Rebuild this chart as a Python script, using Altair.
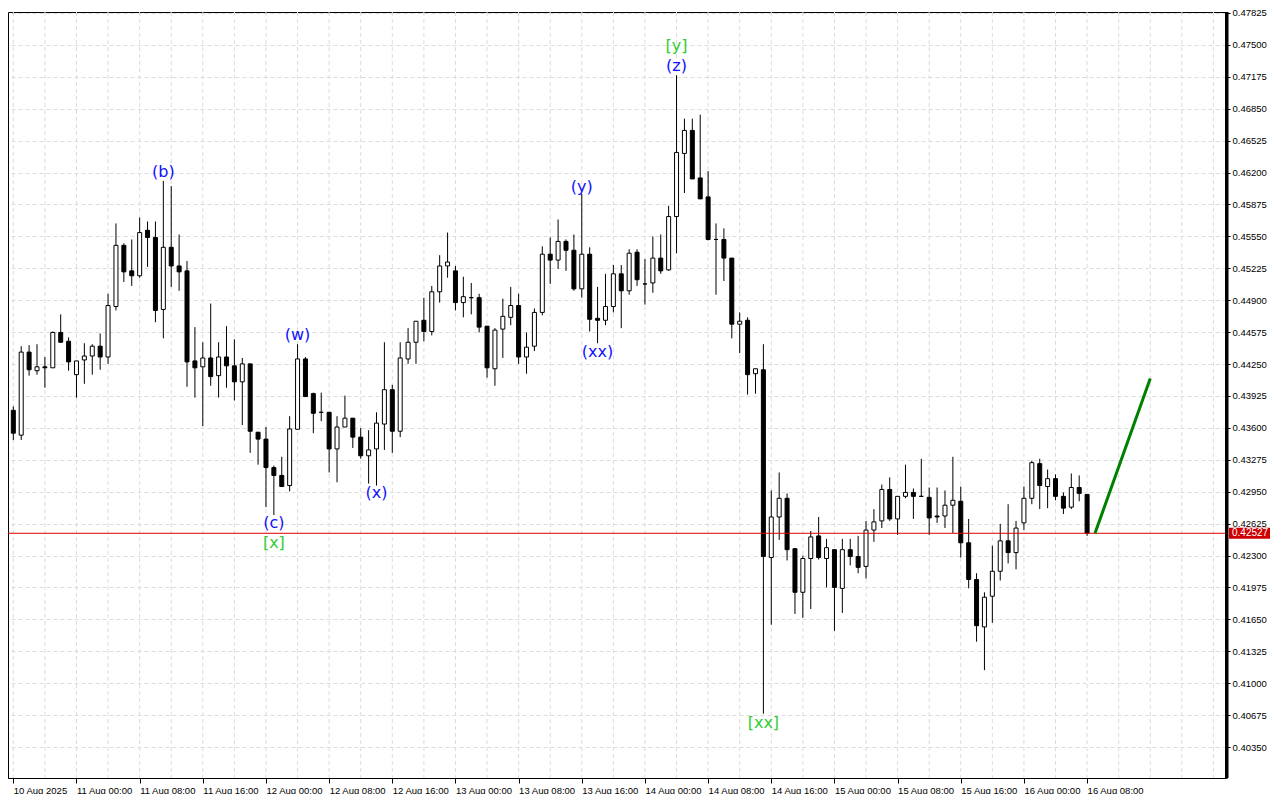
import altair as alt
import pandas as pd

# ---------------- data ----------------
opens = [
    0.43779, 0.43526, 0.44372, 0.44182, 0.44222, 0.44212, 0.44572, 0.44482, 0.44142, 0.44292,
    0.44332, 0.44432, 0.44322, 0.44836, 0.45459, 0.45199, 0.45149, 0.45612, 0.45539, 0.44806,
    0.45439, 0.45249, 0.45199, 0.44282, 0.44222, 0.44312, 0.44132, 0.44322, 0.44232, 0.44069,
    0.44252, 0.43556, 0.43486, 0.43196, 0.43116, 0.43013, 0.43586, 0.44302, 0.43949, 0.43759,
    0.43759, 0.43386, 0.43609, 0.43699, 0.43506, 0.43316, 0.43386, 0.43639, 0.43989, 0.43566,
    0.44302, 0.44472, 0.44696, 0.44582, 0.44986, 0.45249, 0.45199, 0.44876, 0.44926, 0.44926,
    0.44636, 0.44202, 0.44606, 0.44726, 0.44846, 0.44322, 0.44432, 0.44776, 0.45369, 0.45309,
    0.45499, 0.45409, 0.45016, 0.45369, 0.44716, 0.44696, 0.44836, 0.45169, 0.44996, 0.45389,
    0.45066, 0.45076, 0.45329, 0.45209, 0.45752, 0.46395, 0.46629, 0.46145, 0.45952, 0.45519,
    0.45519, 0.45329, 0.44656, 0.44696, 0.44152, 0.44192, 0.42280, 0.42693, 0.42883, 0.42370,
    0.41926, 0.42270, 0.42500, 0.42270, 0.42360, 0.41966, 0.42360, 0.42290, 0.42190, 0.42560,
    0.42653, 0.42973, 0.42673, 0.42903, 0.42943, 0.42903, 0.42893, 0.42703, 0.42703, 0.42813,
    0.42853, 0.42430, 0.42056, 0.41573, 0.41886, 0.42140, 0.42450, 0.42330, 0.42633, 0.42883,
    0.43236, 0.43003, 0.43083, 0.42903, 0.42793, 0.42993, 0.42923,
]
highs = [
    0.43819, 0.44432, 0.44442, 0.44452, 0.44322, 0.44582, 0.44756, 0.44522, 0.44282, 0.44462,
    0.44452, 0.44562, 0.44966, 0.45682, 0.45479, 0.45519, 0.45742, 0.45702, 0.45702, 0.46115,
    0.46062, 0.45569, 0.45299, 0.44626, 0.44472, 0.44866, 0.44472, 0.44636, 0.44502, 0.44312,
    0.44252, 0.43556, 0.43609, 0.43216, 0.43306, 0.43719, 0.44452, 0.44322, 0.43959, 0.43959,
    0.43759, 0.43719, 0.43929, 0.43699, 0.43599, 0.43576, 0.43759, 0.44472, 0.44039, 0.44472,
    0.44616, 0.44686, 0.44926, 0.45046, 0.45359, 0.45589, 0.45249, 0.45139, 0.45076, 0.44966,
    0.44636, 0.44616, 0.44916, 0.45036, 0.44966, 0.44572, 0.44816, 0.45449, 0.45539, 0.45722,
    0.45519, 0.45569, 0.45982, 0.45439, 0.45036, 0.45169, 0.45259, 0.45259, 0.45419, 0.45419,
    0.45319, 0.45549, 0.45569, 0.45862, 0.47191, 0.46749, 0.46749, 0.46789, 0.46215, 0.45682,
    0.45632, 0.45329, 0.44776, 0.44726, 0.44202, 0.44452, 0.42963, 0.43146, 0.42933, 0.42370,
    0.42300, 0.42550, 0.42693, 0.42470, 0.42360, 0.42470, 0.42470, 0.42500, 0.42653, 0.42773,
    0.43023, 0.43096, 0.42903, 0.43226, 0.42983, 0.43286, 0.42993, 0.42993, 0.42963, 0.43306,
    0.43003, 0.42673, 0.42120, 0.41926, 0.42400, 0.42623, 0.42823, 0.42653, 0.43003, 0.43266,
    0.43286, 0.43176, 0.43126, 0.42943, 0.43136, 0.43116, 0.42923,
]
lows = [
    0.43476, 0.43476, 0.44132, 0.44142, 0.44009, 0.44212, 0.44472, 0.44182, 0.43909, 0.44049,
    0.44142, 0.44192, 0.44252, 0.44796, 0.45086, 0.45046, 0.45129, 0.45239, 0.44676, 0.44512,
    0.45036, 0.44996, 0.44019, 0.43909, 0.43619, 0.44029, 0.43909, 0.44009, 0.43879, 0.43629,
    0.43346, 0.43226, 0.42793, 0.42713, 0.43003, 0.42953, 0.43586, 0.43919, 0.43546, 0.43669,
    0.43146, 0.43046, 0.43609, 0.43396, 0.43286, 0.43033, 0.43013, 0.43376, 0.43346, 0.43506,
    0.44252, 0.44252, 0.44482, 0.44542, 0.44876, 0.45129, 0.44796, 0.44726, 0.44756, 0.44572,
    0.44112, 0.44029, 0.44312, 0.44646, 0.44252, 0.44152, 0.44382, 0.44746, 0.45066, 0.45219,
    0.45199, 0.44996, 0.44926, 0.44582, 0.44462, 0.44646, 0.44776, 0.44616, 0.44956, 0.45046,
    0.44856, 0.44976, 0.45169, 0.45199, 0.45379, 0.45992, 0.46135, 0.45932, 0.45509, 0.44956,
    0.45096, 0.44512, 0.44362, 0.43939, 0.43949, 0.40690, 0.41596, 0.42460, 0.42250, 0.41706,
    0.41666, 0.41756, 0.42260, 0.41976, 0.41533, 0.41716, 0.42200, 0.42120, 0.42066, 0.42440,
    0.42580, 0.42653, 0.42510, 0.42883, 0.42673, 0.42903, 0.42510, 0.42633, 0.42580, 0.42530,
    0.42280, 0.41966, 0.41423, 0.41133, 0.41616, 0.42046, 0.42220, 0.42160, 0.42560, 0.42823,
    0.42773, 0.42783, 0.42863, 0.42723, 0.42773, 0.42853, 0.42500,
]
closes = [
    0.43546, 0.44372, 0.44192, 0.44222, 0.44212, 0.44572, 0.44472, 0.44272, 0.44282, 0.44332,
    0.44432, 0.44322, 0.44846, 0.45459, 0.45189, 0.45149, 0.45589, 0.45539, 0.44796, 0.45439,
    0.45249, 0.45189, 0.44272, 0.44212, 0.44312, 0.44122, 0.44322, 0.44232, 0.44069, 0.44252,
    0.43566, 0.43486, 0.43196, 0.43116, 0.43003, 0.43589, 0.44302, 0.43919, 0.43749, 0.43759,
    0.43386, 0.43609, 0.43699, 0.43506, 0.43316, 0.43376, 0.43649, 0.43989, 0.43566, 0.44312,
    0.44472, 0.44686, 0.44582, 0.44986, 0.45249, 0.45289, 0.44876, 0.44936, 0.44926, 0.44626,
    0.44212, 0.44596, 0.44736, 0.44846, 0.44322, 0.44422, 0.44776, 0.45369, 0.45309, 0.45499,
    0.45409, 0.45016, 0.45369, 0.44706, 0.44696, 0.44836, 0.45169, 0.44996, 0.45379, 0.45109,
    0.45066, 0.45329, 0.45199, 0.45752, 0.46405, 0.46629, 0.46135, 0.45932, 0.45519, 0.45519,
    0.45329, 0.44656, 0.44686, 0.44142, 0.44202, 0.42290, 0.42693, 0.42883, 0.42360, 0.41926,
    0.42270, 0.42490, 0.42280, 0.42380, 0.41976, 0.42360, 0.42290, 0.42180, 0.42560, 0.42643,
    0.42973, 0.42673, 0.42903, 0.42943, 0.42903, 0.42903, 0.42683, 0.42693, 0.42813, 0.42863,
    0.42430, 0.42056, 0.41586, 0.41876, 0.42140, 0.42450, 0.42330, 0.42580, 0.42883, 0.43246,
    0.43013, 0.43083, 0.42903, 0.42783, 0.42993, 0.42933, 0.42527,
]

time_labels = [
    "10 Aug 2025", "11 Aug 00:00", "11 Aug 08:00", "11 Aug 16:00", "12 Aug 00:00",
    "12 Aug 08:00", "12 Aug 16:00", "13 Aug 00:00", "13 Aug 08:00", "13 Aug 16:00",
    "14 Aug 00:00", "14 Aug 08:00", "14 Aug 16:00", "15 Aug 00:00", "15 Aug 08:00",
    "15 Aug 16:00", "16 Aug 00:00", "16 Aug 08:00",
]
label_bars = [0, 8, 16, 24, 32, 40, 48, 56, 64, 72, 80, 88, 96, 104, 112, 120, 128, 136]
grid_bars = [0, 4, 8, 12, 16, 20, 24, 28, 32, 36, 40, 44, 48, 52, 56, 60, 64, 68, 72, 76,
             80, 84, 88, 92, 96, 100, 104, 108, 112, 116, 120, 124, 128, 132, 136, 140,
             144, 148, 152]
price_ticks = [
    0.47825, 0.47500, 0.47175, 0.46850, 0.46525, 0.46200, 0.45875, 0.45550, 0.45225,
    0.44900, 0.44575, 0.44250, 0.43925, 0.43600, 0.43275, 0.42950, 0.42625, 0.42300,
    0.41975, 0.41650, 0.41325, 0.41000, 0.40675, 0.40350,
]
bid_price = 0.42527

forecast_bar = [137, 144]
forecast_price = [0.42527, 0.44102]

wave_text = ["(b)", "(c)", "[x]", "(w)", "(x)", "(y)", "(xx)", "[y]", "(z)", "[xx]"]
wave_bar = [19, 33, 33, 36, 46, 72, 74, 84, 84, 95]
wave_price = [0.46205, 0.42633, 0.42430, 0.44542, 0.42933, 0.46052, 0.44372, 0.47493, 0.47281, 0.40590]
wave_color = ["#1010ff", "#1010ff", "#32cd32", "#1010ff", "#1010ff", "#1010ff", "#1010ff",
              "#32cd32", "#1010ff", "#32cd32"]

# ---------------- tables ----------------
candles = pd.DataFrame({
    "bar": list(range(len(opens))),
    "open": opens, "high": highs, "low": lows, "close": closes,
})
candles["top"] = candles[["open", "close"]].max(axis=1)
candles["bot"] = candles[["open", "close"]].min(axis=1)
candles["fill"] = ["white" if c > o else "black" for o, c in zip(opens, closes)]

grid_df = pd.DataFrame({"bar": grid_bars})
forecast_df = pd.DataFrame({"bar": forecast_bar, "price": forecast_price})
waves_df = pd.DataFrame({"bar": wave_bar, "price": wave_price, "text": wave_text, "col": wave_color})
bid_df = pd.DataFrame({"price": [bid_price], "text": [f"{bid_price:.5f}"]})

W, H = 1218, 766
xscale = alt.Scale(domain=[-0.04, 152.96], nice=False, zero=False)
yscale = alt.Scale(domain=[0.40035, 0.47835], nice=False, zero=False)
label_expr = "[" + ",".join(f"'{s}'" for s in time_labels) + "][round(datum.value / 8)]"

x_axis = alt.Axis(
    values=label_bars, labelExpr=label_expr, labelAlign="left", labelBaseline="top",
    labelFont="Liberation Sans", labelFontSize=9.5, labelColor="black", labelPadding=2,
    labelOverlap=False, labelFlush=False, labelBound=False,
    tickColor="black", tickSize=5, tickWidth=1, domainColor="black", domainWidth=1,
    grid=False, title=None,
)
y_axis = alt.Axis(
    orient="right", values=price_ticks, format=".5f", labelFont="Liberation Sans",
    labelFontSize=9.5, labelColor="black", labelPadding=2, tickColor="black", tickSize=4,
    domainColor="black", domainWidth=3, grid=True, gridColor="#dcdcdc", gridDash=[4, 3],
    labelOverlap=False, labelFlush=False, title=None,
)


def X():
    return alt.X("bar:Q", scale=xscale, axis=x_axis)


def Y(field):
    return alt.Y(field, scale=yscale, axis=y_axis)


base = alt.Chart(candles)

vgrid = alt.Chart(grid_df).mark_rule(color="#dcdcdc", strokeDash=[4, 3], strokeWidth=1).encode(
    x=X()
)

wicks = base.mark_rule(color="black", strokeWidth=1, clip=True).encode(
    x=X(), y=Y("low:Q"), y2="high:Q",
)

bodies = base.mark_bar(width=4, stroke="black", strokeWidth=1, clip=True).encode(
    x=X(), y=Y("bot:Q"), y2="top:Q",
    fill=alt.Fill("fill:N", scale=None),
)

bid_line = alt.Chart(bid_df).mark_rule(color="#dd0000", strokeWidth=1).encode(
    y=Y("price:Q")
)

forecast = alt.Chart(forecast_df).mark_line(color="#008000", strokeWidth=3).encode(
    x=X(), y=Y("price:Q")
)

waves = alt.Chart(waves_df).mark_text(font="DejaVu Sans", fontSize=16, baseline="middle",
                                      align="center").encode(
    x=X(), y=Y("price:Q"), text="text:N",
    color=alt.Color("col:N", scale=None),
)

# thick price-scale separator on the right edge of the plot
right_border = alt.Chart(bid_df).mark_rule(color="black", strokeWidth=3).encode(
    x=alt.value(W + 1), y=alt.value(0), y2=alt.value(H)
)

bid_box = alt.Chart(bid_df).mark_rule(color="#cc0000", strokeWidth=11, strokeCap="butt").encode(
    y=Y("price:Q"),
    x=alt.value(W + 3), x2=alt.value(W + 44),
)
bid_text = alt.Chart(bid_df).mark_text(font="Liberation Sans", fontSize=10, color="white",
                                       align="left", baseline="middle").encode(
    y=Y("price:Q"), x=alt.value(W + 6), text="text:N",
)

chart = alt.layer(vgrid, wicks, bodies, bid_line, forecast, waves, right_border,
                  bid_box, bid_text).properties(
    width=W, height=H,
    padding={"left": 0, "top": 4, "right": 46, "bottom": 16},
    autosize=alt.AutoSizeParams(type="none"),
    background="white",
).configure_view(stroke="black", strokeWidth=1)

chart.save("out.html", embed_options={"renderer": "svg", "actions": False})
